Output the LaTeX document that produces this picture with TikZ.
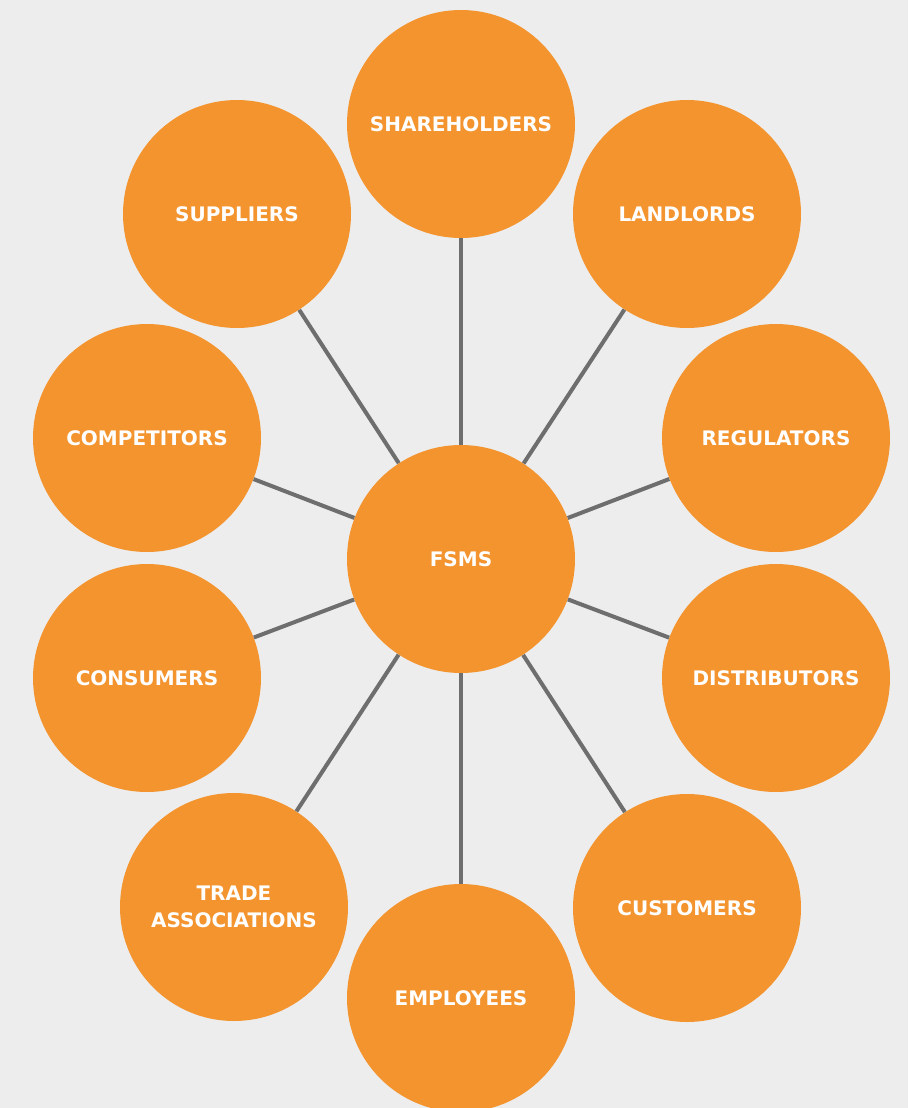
\documentclass[tikz,border=0pt]{standalone}
\usepackage{fontspec}
\setmainfont{DejaVu Sans}
\usetikzlibrary{positioning}

\definecolor{pagegray}{HTML}{EDEDED}
\definecolor{stakeorange}{HTML}{F3942F}
\definecolor{linkgray}{HTML}{6E6E6E}

\begin{document}
\begin{tikzpicture}[
  x=0.75pt, y=-0.75pt,
  party/.style={circle, fill=stakeorange, minimum size=171pt, inner sep=0pt, text=white, align=center, font=\fontsize{15}{20}\selectfont\bfseries},
  link/.style={draw=linkgray, line width=3pt}
]

% page background fixes the size
\fill[pagegray] (0,0) rectangle (908,1108);
\useasboundingbox (0,0) rectangle (908,1108);

\node[party] (F) at (461,559) {FSMS};

\node[party] (SH) at (461,124) {SHAREHOLDERS};
\node[party] (LA) at (687,214) {LANDLORDS};
\node[party] (RE) at (776,438) {REGULATORS};
\node[party] (DI) at (776,678) {DISTRIBUTORS};
\node[party] (CU) at (687,908) {CUSTOMERS};
\node[party] (EM) at (461,998) {EMPLOYEES};
\node[party] (TR) at (234,907) {TRADE\\ASSOCIATIONS};
\node[party] (CO) at (147,678) {CONSUMERS};
\node[party] (CM) at (147,438) {COMPETITORS};
\node[party] (SU) at (237,214) {SUPPLIERS};

\foreach \n in {SH,LA,RE,DI,CU,EM,TR,CO,CM,SU}
  \draw[link] (F) -- (\n);

\end{tikzpicture}
\end{document}
